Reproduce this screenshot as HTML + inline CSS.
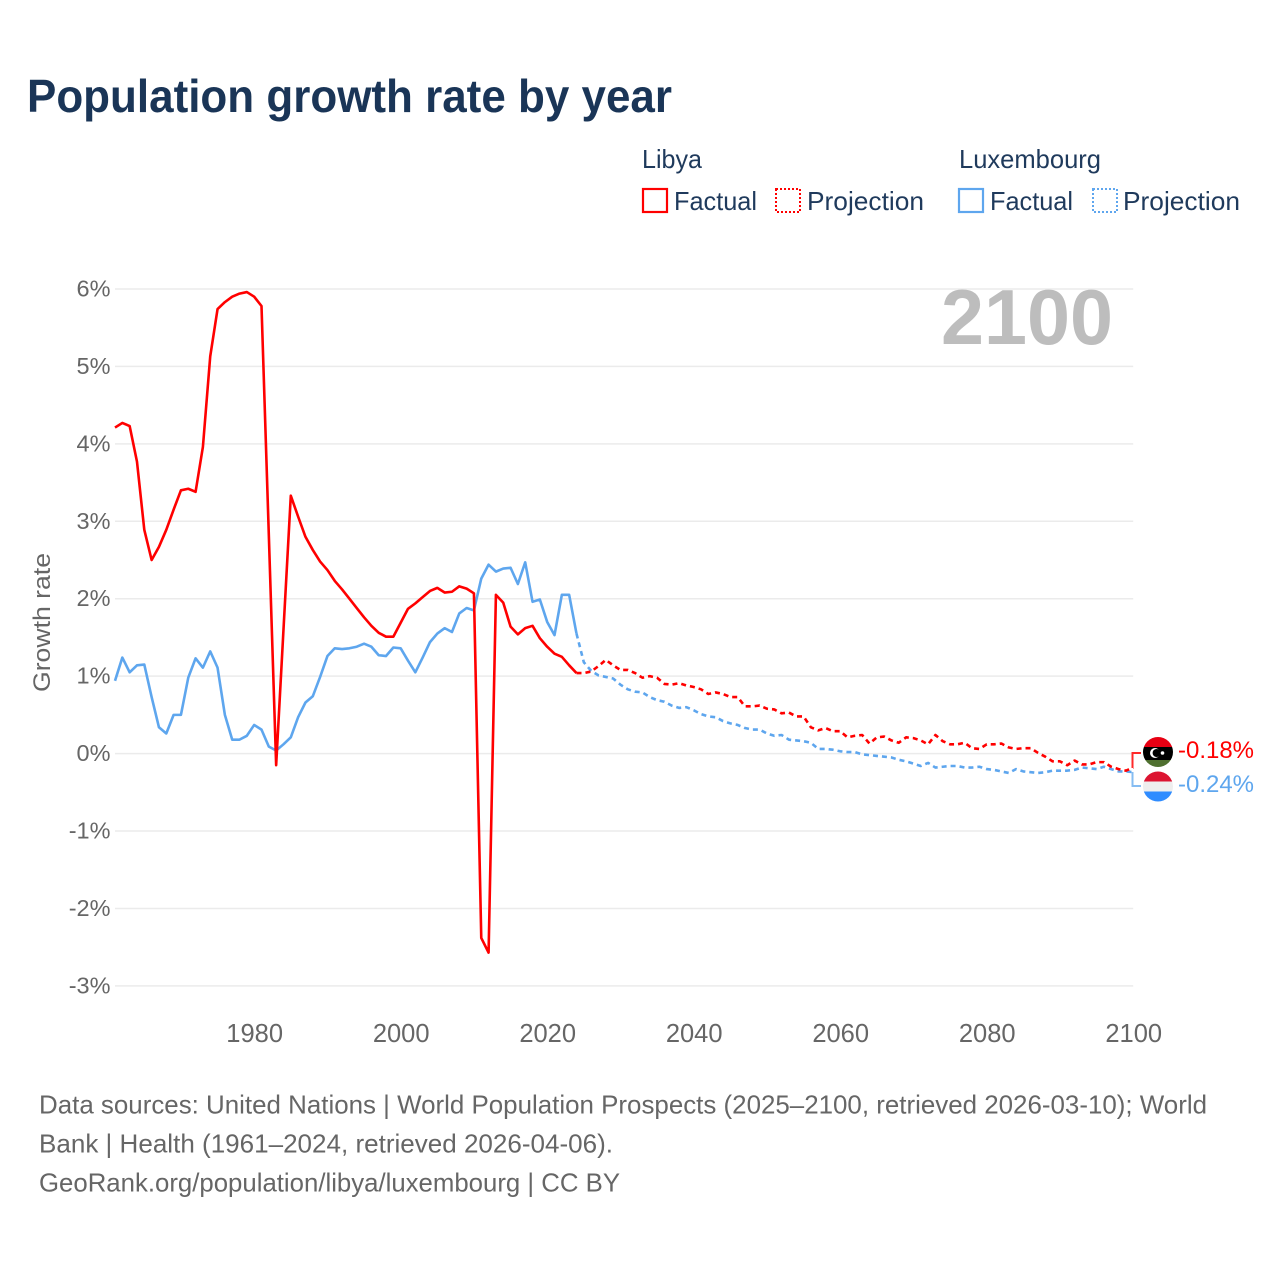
<!DOCTYPE html>
<html lang="en">
<head>
<meta charset="utf-8">
<title>Population growth rate by year</title>
<style>
html,body{margin:0;padding:0;background:#fff}
svg{display:block}
text{font-family:"Liberation Sans",sans-serif}
</style>
</head>
<body>
<svg id="chart" xmlns="http://www.w3.org/2000/svg" width="1280" height="1280" viewBox="0 0 1280 1280">
  <rect x="0" y="0" width="1280" height="1280" fill="#fff"/>
  <text x="27" y="112" font-size="46" font-weight="700" fill="#1a3557" textLength="645" lengthAdjust="spacingAndGlyphs">Population growth rate by year</text>

  <g fill="#1f3a5c" font-size="26">
    <text x="642" y="168" textLength="60" lengthAdjust="spacingAndGlyphs">Libya</text>
    <text x="959" y="168" textLength="142" lengthAdjust="spacingAndGlyphs">Luxembourg</text>
    <rect x="643" y="189" width="24" height="23" fill="none" stroke="#ff0000" stroke-width="2.2"/>
    <text x="674" y="210" textLength="83" lengthAdjust="spacingAndGlyphs">Factual</text>
    <rect x="776" y="189" width="24" height="23" fill="none" stroke="#ff0000" stroke-width="2" stroke-dasharray="2 2"/>
    <text x="807" y="210" textLength="117" lengthAdjust="spacingAndGlyphs">Projection</text>
    <rect x="959" y="189" width="24" height="23" fill="none" stroke="#5ea6ee" stroke-width="2.2"/>
    <text x="990" y="210" textLength="83" lengthAdjust="spacingAndGlyphs">Factual</text>
    <rect x="1093" y="189" width="24" height="23" fill="none" stroke="#5ea6ee" stroke-width="2" stroke-dasharray="2 2"/>
    <text x="1123" y="210" textLength="117" lengthAdjust="spacingAndGlyphs">Projection</text>
  </g>

  <g id="grid"></g>
  <g id="yticks"></g>
  <g id="xticks"></g>
  <text transform="translate(50,622.5) rotate(-90)" text-anchor="middle" font-size="24" fill="#666" textLength="139" lengthAdjust="spacingAndGlyphs">Growth rate</text>
  <text x="941" y="344" font-size="78" font-weight="700" fill="#bdbdbd" textLength="172" lengthAdjust="spacingAndGlyphs">2100</text>

  <g id="series"></g>

  <g>
    <path d="M1132.5 768V753H1141" fill="none" stroke="#ff2a2a" stroke-width="2"/>
    <path d="M1132.5 772V786H1141" fill="none" stroke="#85bcf2" stroke-width="2"/>
    <clipPath id="clip-ly"><circle cx="1158" cy="752" r="15"/></clipPath>
    <clipPath id="clip-lu"><circle cx="1158" cy="786.5" r="15"/></clipPath>
    <g clip-path="url(#clip-ly)">
      <rect x="1143" y="737" width="30" height="10" fill="#e70013"/>
      <rect x="1143" y="747" width="30" height="13" fill="#000"/>
      <rect x="1143" y="760" width="30" height="8" fill="#4f7030"/>
      <circle cx="1155" cy="753" r="5" fill="#fff"/>
      <circle cx="1156.6" cy="753" r="4" fill="#000"/>
      <circle cx="1162.5" cy="753" r="1.8" fill="#fff"/>
    </g>
    <g clip-path="url(#clip-lu)">
      <rect x="1143" y="771" width="30" height="10.5" fill="#dc1431"/>
      <rect x="1143" y="781.5" width="30" height="10" fill="#eeeeee"/>
      <rect x="1143" y="791.5" width="30" height="10.5" fill="#2f8cff"/>
    </g>
    <text id="end-libya" x="1178" y="758" font-size="24.5" fill="#ff0000" textLength="76" lengthAdjust="spacingAndGlyphs"></text>
    <text id="end-lux" x="1178" y="792" font-size="24.5" fill="#5ea6ee" textLength="76" lengthAdjust="spacingAndGlyphs"></text>
  </g>

  <g font-size="26" fill="#666">
    <text x="39" y="1113.5" textLength="1168" lengthAdjust="spacingAndGlyphs">Data sources: United Nations | World Population Prospects (2025–2100, retrieved 2026-03-10); World</text>
    <text x="39" y="1152.5" textLength="574" lengthAdjust="spacingAndGlyphs">Bank | Health (1961–2024, retrieved 2026-04-06).</text>
    <text x="39" y="1191.5" textLength="581" lengthAdjust="spacingAndGlyphs">GeoRank.org/population/libya/luxembourg | CC BY</text>
  </g>
</svg>
<script>
const yTickValues = [6,5,4,3,2,1,0,-1,-2,-3];
const xTickYears = [1980,2000,2020,2040,2060,2080,2100];
const factualYears = [1961,1962,1963,1964,1965,1966,1967,1968,1969,1970,1971,1972,1973,1974,1975,1976,1977,1978,1979,1980,1981,1982,1983,1984,1985,1986,1987,1988,1989,1990,1991,1992,1993,1994,1995,1996,1997,1998,1999,2000,2001,2002,2003,2004,2005,2006,2007,2008,2009,2010,2011,2012,2013,2014,2015,2016,2017,2018,2019,2020,2021,2022,2023,2024];
const projectionYears = [2024,2025,2026,2027,2028,2029,2030,2031,2032,2033,2034,2035,2036,2037,2038,2039,2040,2041,2042,2043,2044,2045,2046,2047,2048,2049,2050,2051,2052,2053,2054,2055,2056,2057,2058,2059,2060,2061,2062,2063,2064,2065,2066,2067,2068,2069,2070,2071,2072,2073,2074,2075,2076,2077,2078,2079,2080,2081,2082,2083,2084,2085,2086,2087,2088,2089,2090,2091,2092,2093,2094,2095,2096,2097,2098,2099,2100];
const libyaFactual = [4.21,4.27,4.23,3.77,2.89,2.50,2.67,2.89,3.15,3.40,3.42,3.38,3.96,5.13,5.74,5.83,5.90,5.94,5.96,5.90,5.78,2.82,-0.15,1.60,3.33,3.06,2.80,2.63,2.48,2.37,2.23,2.12,2.00,1.88,1.76,1.65,1.56,1.51,1.51,1.69,1.87,1.94,2.02,2.10,2.14,2.08,2.09,2.16,2.13,2.07,-2.38,-2.57,2.05,1.95,1.64,1.54,1.62,1.65,1.49,1.38,1.29,1.25,1.14,1.04];
const luxembourgFactual = [0.94,1.24,1.05,1.14,1.15,0.73,0.34,0.26,0.50,0.50,0.98,1.23,1.11,1.32,1.11,0.50,0.18,0.18,0.23,0.37,0.31,0.09,0.04,0.12,0.21,0.47,0.66,0.74,0.99,1.26,1.36,1.35,1.36,1.38,1.42,1.38,1.27,1.26,1.37,1.36,1.20,1.05,1.24,1.44,1.55,1.62,1.57,1.81,1.88,1.85,2.26,2.44,2.35,2.39,2.40,2.19,2.47,1.96,1.99,1.70,1.53,2.05,2.05,1.55];
const libyaProjection = [1.04,1.04,1.06,1.13,1.21,1.14,1.08,1.08,1.04,0.98,1.00,0.98,0.90,0.89,0.91,0.88,0.86,0.83,0.77,0.79,0.77,0.73,0.73,0.61,0.61,0.62,0.58,0.57,0.52,0.53,0.48,0.48,0.34,0.30,0.33,0.29,0.29,0.21,0.23,0.24,0.13,0.21,0.22,0.17,0.14,0.21,0.20,0.17,0.12,0.24,0.16,0.12,0.12,0.14,0.07,0.06,0.12,0.12,0.13,0.08,0.06,0.07,0.07,0.01,-0.04,-0.10,-0.10,-0.15,-0.09,-0.14,-0.14,-0.11,-0.11,-0.17,-0.20,-0.22,-0.18];
const luxembourgProjection = [1.55,1.18,1.07,1.01,0.99,0.97,0.89,0.83,0.80,0.79,0.73,0.69,0.67,0.62,0.59,0.60,0.56,0.51,0.48,0.47,0.42,0.39,0.37,0.33,0.31,0.31,0.26,0.23,0.24,0.18,0.17,0.16,0.14,0.06,0.06,0.05,0.03,0.02,0.02,-0.01,-0.02,-0.03,-0.04,-0.05,-0.08,-0.10,-0.13,-0.16,-0.12,-0.18,-0.17,-0.16,-0.16,-0.18,-0.18,-0.17,-0.20,-0.21,-0.23,-0.25,-0.20,-0.23,-0.24,-0.25,-0.24,-0.22,-0.22,-0.22,-0.21,-0.18,-0.19,-0.20,-0.17,-0.20,-0.23,-0.23,-0.24];

const NS = 'http://www.w3.org/2000/svg';
const plotLeft = 115, plotRight = 1133.2, yearMin = 1961, yearMax = 2100;
const yZero = 753.6, yPerUnit = 77.44;
function xScale(year) { return plotLeft + (year - yearMin) * (plotRight - plotLeft) / (yearMax - yearMin); }
function yScale(value) { return yZero - value * yPerUnit; }
function make(tag, attrs, parent) {
  const el = document.createElementNS(NS, tag);
  for (const k in attrs) el.setAttribute(k, attrs[k]);
  parent.appendChild(el);
  return el;
}
const gridG = document.getElementById('grid');
const yG = document.getElementById('yticks');
const xG = document.getElementById('xticks');
const seriesG = document.getElementById('series');

yTickValues.forEach(function (v) {
  const line = make('line', {x1: plotLeft, x2: plotRight, y1: yScale(v), y2: yScale(v), stroke: '#ebebeb', 'stroke-width': 1.5}, gridG);
  
  
  const label = make('text', {x: 110.5, y: yScale(v) + 7.5, 'text-anchor': 'end', 'font-size': 23.5, fill: '#666'}, yG);
  
  
  label.textContent = v + '%';
});

xTickYears.forEach(function (yr) {
  const label = make('text', {x: xScale(yr) + 0.5, y: 1042, 'text-anchor': 'middle', 'font-size': 25.5, fill: '#666'}, xG);
  
  
  label.textContent = yr;
});

function linePath(years, values) {
  return years.map(function (yr, i) {
    return (i ? 'L' : 'M') + xScale(yr).toFixed(2) + ' ' + yScale(values[i]).toFixed(2);
  }).join('');
}
function addSeries(name, years, values, color, dash) {
  const attrs = {d: linePath(years, values), fill: 'none', stroke: color, 'stroke-width': 2.6, 'stroke-linejoin': 'round'};
  if (dash) attrs['stroke-dasharray'] = dash;
  const p = make('path', attrs, seriesG);
  
  
}
addSeries('line-luxembourg-projection', projectionYears, luxembourgProjection, '#5ea6ee', '5 4');
addSeries('line-libya-projection', projectionYears, libyaProjection, '#ff0000', '5 4');
addSeries('line-luxembourg-factual', factualYears, luxembourgFactual, '#5ea6ee', null);
addSeries('line-libya-factual', factualYears, libyaFactual, '#ff0000', null);

document.getElementById('end-libya').textContent = libyaProjection[libyaProjection.length - 1].toFixed(2) + '%';
document.getElementById('end-lux').textContent = luxembourgProjection[luxembourgProjection.length - 1].toFixed(2) + '%';
</script>
</body>
</html>
